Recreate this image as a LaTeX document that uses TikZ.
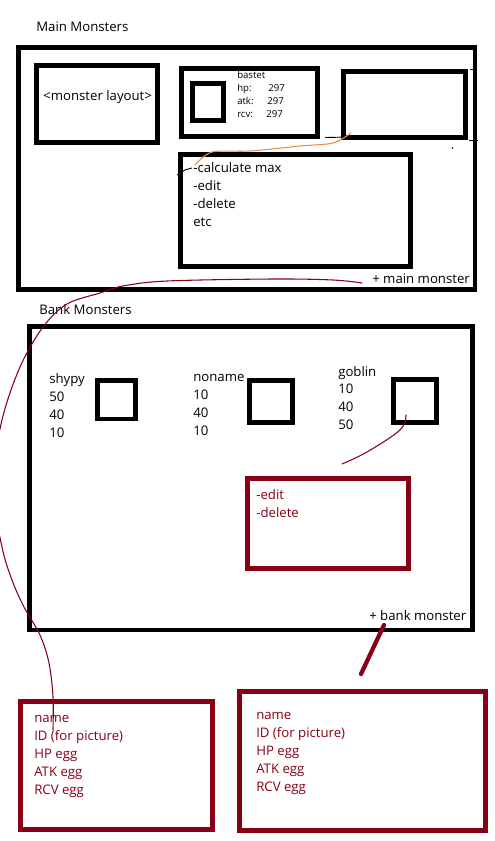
\documentclass[tikz,border=0pt]{standalone}
\usepackage{fontspec}
\setmainfont{Open Sans}
\usetikzlibrary{fit}
\definecolor{dred}{RGB}{136,0,21}
\definecolor{sketchorange}{RGB}{232,140,72}
\begin{document}
\begin{tikzpicture}[x=0.75pt,y=-0.75pt,
  box/.style={draw=black,line width=3.6pt,inner sep=0pt,line join=miter},
  rbox/.style={box,draw=dred},
  txt/.style={anchor=base west,inner sep=0pt,font=\fontsize{9.9}{11}\selectfont,text=black},
  rtxt/.style={txt,text=dred},
  small/.style={txt,font=\fontsize{7.2}{8}\selectfont},
  pen/.style={line width=0.8pt,line cap=round,line join=round},
  scrap/.style={black,line width=0.7pt}]
\useasboundingbox (0,0) rectangle (494,841);
\fill[white] (0,0) rectangle (494,841);

% ---------- Main Monsters ----------
\node[txt] (mmtitle) at (36,32) {Main Monsters};
\node[box,fit={(18.5,47.5)(475,289.5)}] (main) {};
\node[box,fit={(36.5,65.5)(157.5,142.5)}] (layout) {};
\node[txt] (layouttxt) at (43,101) {<monster layout>};
\node[box,fit={(181.5,68.5)(317.5,136.5)}] (bastetbox) {};
\node[box,line width=4.2pt,fit={(192.5,83.5)(223.5,120.5)}] (bastetpic) {};
\node[small] (bname) at (237,79) {bastet};
\node[small] (bhp) at (237,92) {hp:};
\node[small] (bhpv) at (268,92) {297};
\node[small] (batk) at (237,105) {atk:};
\node[small] (batkv) at (267,105) {297};
\node[small] (brcv) at (237,118) {rcv:};
\node[small] (brcvv) at (266,118) {297};
\node[box,fit={(343.5,71.5)(465.5,137.5)}] (emptybox) {};
\node[box,fit={(180.5,154.5)(410.5,266.5)}] (menu) {};
\node[txt] (m1) at (193,173) {-calculate max};
\node[txt] (m2) at (193,191) {-edit};
\node[txt] (m3) at (193,209) {-delete};
\node[txt] (m4) at (193,227) {etc};
\node[txt] (addmain) at (372,283) {+ main monster};

% stray pen marks
\draw[scrap] (325,137.5) -- (350,137);
\draw[scrap] (469,140) -- (478,140);
\draw[scrap] (470,69) -- (477,69);
\fill[black] (452.5,148) circle (0.8);
\draw[scrap] (177,175) -- (185,170) -- (192,168);

% orange link
\coordinate (oA) at (351,133);
\coordinate (oB) at (195,165);
\draw[pen,sketchorange] plot[smooth,tension=0.5] coordinates {(oA) (333,143) (300,146) (250,151) (212,152) (oB)};

% ---------- Bank Monsters ----------
\node[txt] (bmtitle) at (39,314) {Bank Monsters};
\node[box,fit={(29.5,326.5)(472.5,630)}] (bank) {};
\node[box,fit={(97.5,380.5)(135.5,419)}] (shypypic) {};
\node[box,fit={(249.5,380.5)(292.5,422.5)}] (nonamepic) {};
\node[box,fit={(393.5,379.5)(436.5,422.5)}] (goblinpic) {};
\node[txt] (s0) at (49,383) {shypy};
\node[txt] (s1) at (49,401) {50};
\node[txt] (s2) at (49,419) {40};
\node[txt] (s3) at (49,437) {10};
\node[txt] (n0) at (193,381) {noname};
\node[txt] (n1) at (193,399) {10};
\node[txt] (n2) at (193,417) {40};
\node[txt] (n3) at (193,435) {10};
\node[txt] (g0) at (338,376) {goblin};
\node[txt] (g1) at (338,393) {10};
\node[txt] (g2) at (338,411) {40};
\node[txt] (g3) at (338,429) {50};
\node[rbox,fit={(247.5,478.5)(408.5,568.5)}] (bankmenu) {};
\node[rtxt] (bm1) at (256,499) {-edit};
\node[rtxt] (bm2) at (256,517) {-delete};
\node[txt] (addbank) at (369,620) {+ bank monster};

% ---------- data boxes ----------
\node[rbox,fit={(20.5,701.5)(212.5,829.5)}] (mainfields) {};
\node[rtxt] (f1) at (34,722) {name};
\node[rtxt] (f2) at (34,740) {ID (for picture)};
\node[rtxt] (f3) at (34,758) {HP egg};
\node[rtxt] (f4) at (34,776) {ATK egg};
\node[rtxt] (f5) at (34,794) {RCV egg};
\node[rbox,fit={(239.5,691.5)(485.5,830.5)}] (bankfields) {};
\node[rtxt] (k1) at (256,719) {name};
\node[rtxt] (k2) at (256,737) {ID (for picture)};
\node[rtxt] (k3) at (256,755) {HP egg};
\node[rtxt] (k4) at (256,773) {ATK egg};
\node[rtxt] (k5) at (256,791) {RCV egg};

% ---------- dark red links ----------
\begin{scope}
\clip (0,0) rectangle (494,841);
\coordinate (lA) at (362,283);
\coordinate (lB) at (53,730);
\draw[pen,dred] plot[smooth,tension=0.55] coordinates {(lA) (333,280) (273,279) (167,281) (123,286) (100,293) (67,304) (43,327) (20,367) (2,420) (-8,485) (2,547) (12,580) (24,607) (40,635) (49,663) (53,697) (lB)};
\end{scope}
\coordinate (gA) at (406,415);
\coordinate (gB) at (342,464);
\draw[pen,dred] plot[smooth,tension=0.6] coordinates {(gA) (400,430) (367,452) (gB)};
\coordinate (sA) at (384,625);
\coordinate (sB) at (361,674);
\draw[dred,line width=3.2pt,line cap=round] (sA) -- (sB);
\end{tikzpicture}
\end{document}
